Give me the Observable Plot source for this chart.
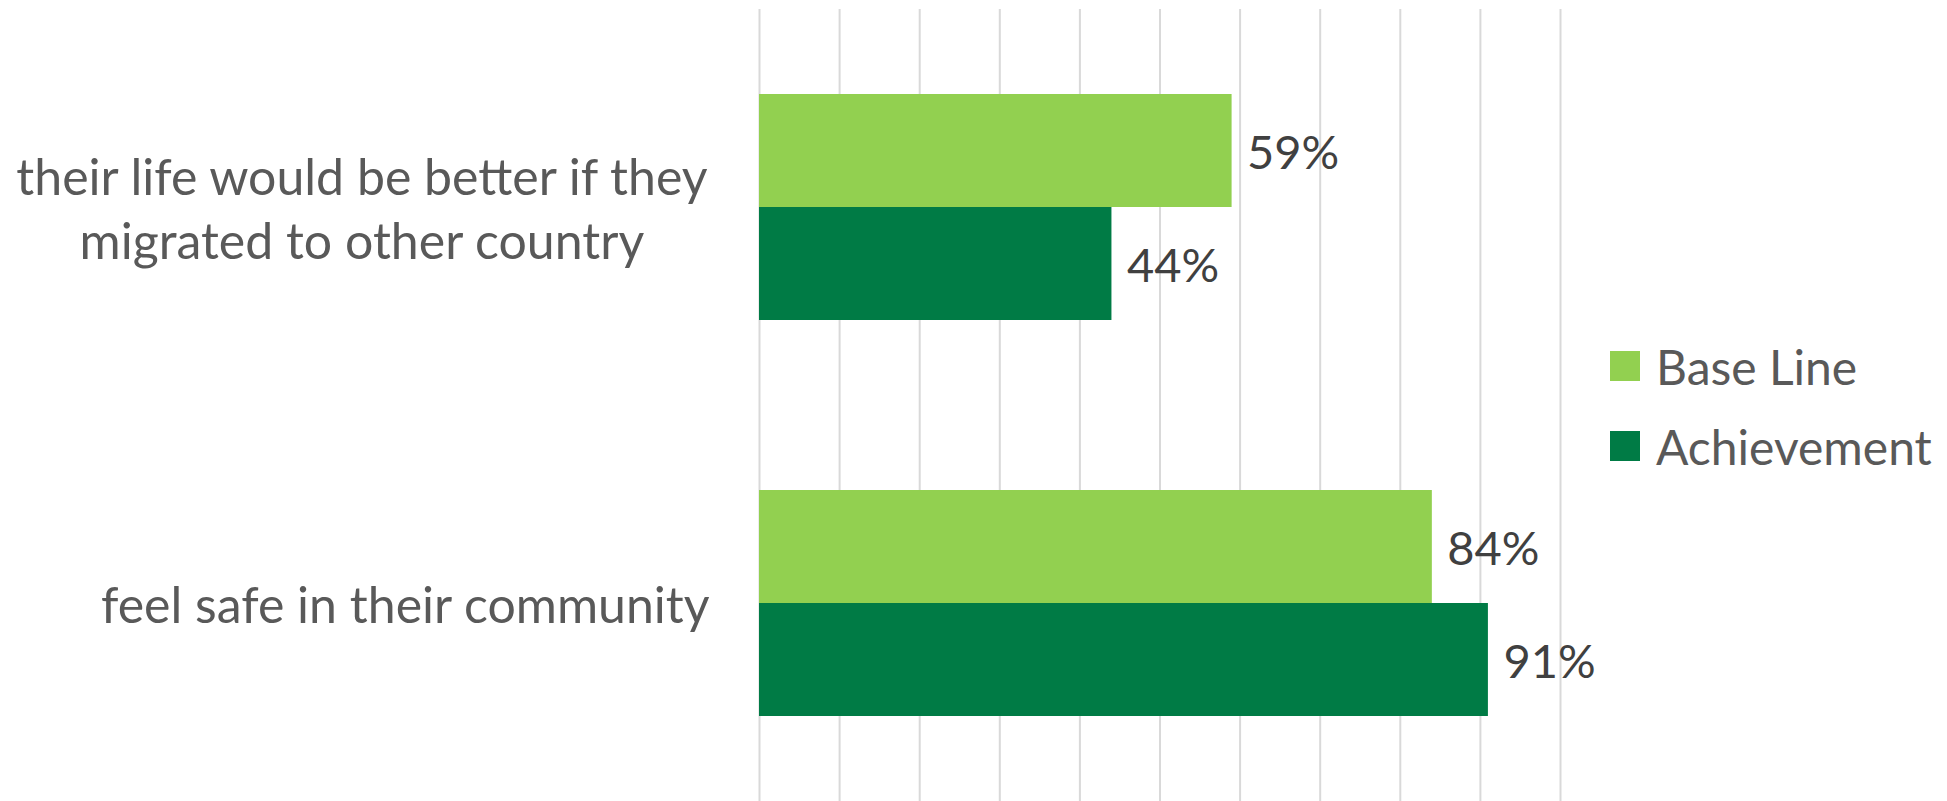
<!DOCTYPE html>
<html>
<head>
<meta charset="utf-8">
<script src="https://cdn.jsdelivr.net/npm/d3@7"></script>
<script src="https://cdn.jsdelivr.net/npm/@observablehq/plot@0.6"></script>
<style>
  html, body { margin: 0; padding: 0; background: #ffffff; overflow: hidden; }
  #wrap { position: relative; width: 1947px; height: 801px; }
  #legend { position: absolute; left: 1610px; top: 351px; font-family: Lato, "Open Sans", sans-serif; color: #595959; }
  .item { display: flex; align-items: center; height: 30px; margin-bottom: 50px; font-size: 48px; white-space: nowrap; }
  .sw { width: 30px; height: 30px; margin-right: 16px; flex: none; }
</style>
</head>
<body>
<div id="wrap"><div id="legend"></div></div>
<script>
// ---- data ----
const categories = ["their life would be better if they migrated to other country", "feel safe in their community"];
const categoryLabels = ["their life would be better if they\nmigrated to other country", "feel safe in their community"];
const series = ["Base Line", "Achievement"];
const baseLine = [0.59, 0.84];
const achievement = [0.44, 0.91];
const seriesColors = ["#92D050", "#007B45"];
const gridTicks = [0, 0.1, 0.2, 0.3, 0.4, 0.5, 0.6, 0.7, 0.8, 0.9, 1.0];

// ---- build table ----
const rows = [];
categories.forEach((c, i) => {
  rows.push({category: c, series: series[0], value: baseLine[i]});
  rows.push({category: c, series: series[1], value: achievement[i]});
});

const catFont = 50;
const catFamily = "Lato";
const ctx = document.createElement("canvas").getContext("2d");
ctx.font = `${catFont}px ${catFamily}`;
const labelRows = categories.map((c, i) => {
  const lines = categoryLabels[i].split("\n");
  const w = d3.max(lines, l => ctx.measureText(l).width);
  return {category: c, label: categoryLabels[i], multi: lines.length > 1, width: w};
});
const gapToAxis = 50;

const marks = [
  Plot.ruleX(gridTicks, {x: d => d, stroke: "#d9d9d9", strokeWidth: 2}),
  Plot.barX(rows, {fy: "category", y: "series", x: "value", fill: "series"}),
  Plot.text(rows, {
    fy: "category", y: "series", x: "value", text: d => d3.format(".0%")(d.value),
    textAnchor: "start", lineAnchor: "middle", dx: 15, dy: 3,
    fontSize: 47, fill: "#404040", fontFamily: "Lato"
  })
];
labelRows.forEach(r => {
  marks.push(Plot.text([r], {
    fy: "category", text: "label", frameAnchor: "left",
    textAnchor: r.multi ? "middle" : "end",
    dx: r.multi ? -(gapToAxis + r.width / 2) : -gapToAxis,
    dy: -1, lineAnchor: "middle", lineHeight: 64 / catFont,
    fontSize: catFont, fill: "#595959", fontFamily: catFamily
  }));
});

const chart = Plot.plot({
  width: 1947,
  height: 801,
  marginLeft: 759,
  marginRight: 387,
  marginTop: 8,
  marginBottom: 0,
  style: {background: "#ffffff", fontFamily: "Lato"},
  x: {domain: [0, 1], axis: null},
  y: {domain: series, axis: null, paddingInner: 0, paddingOuter: 0.75},
  fy: {domain: categories, axis: null, padding: 0},
  color: {domain: series, range: seriesColors},
  marks
});
document.getElementById("wrap").prepend(chart);

// ---- legend ----
const legend = d3.select("#legend");
series.forEach((s, i) => {
  const item = legend.append("div").attr("class", "item");
  item.append("div").attr("class", "sw").style("background", seriesColors[i]);
  item.append("span").text(s);
});
</script>
</body>
</html>
